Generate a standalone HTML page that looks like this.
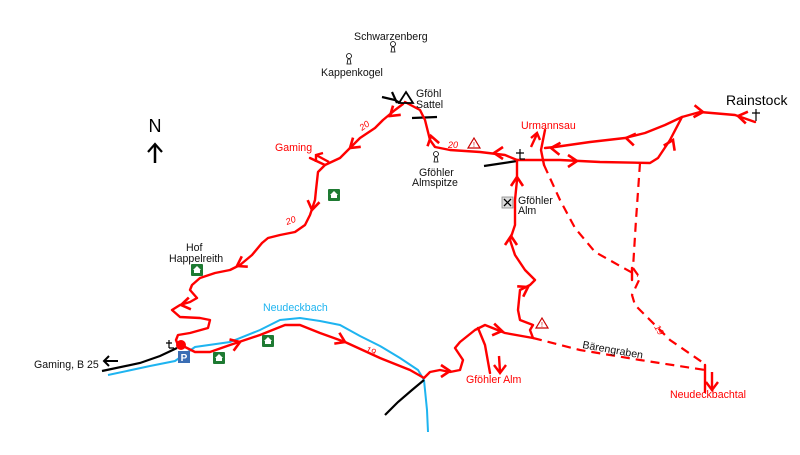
<!DOCTYPE html>
<html><head><meta charset="utf-8"><style>
html,body{margin:0;padding:0;background:#fff;}
svg{display:block;font-family:"Liberation Sans",sans-serif;}
.r{fill:none;stroke:#f00;stroke-width:2.4;stroke-linejoin:round;stroke-linecap:round}
.d{fill:none;stroke:#f00;stroke-width:2.2;stroke-dasharray:9,6}
.b{fill:none;stroke:#000;stroke-width:2.2}
.w{fill:none;stroke:#1eb4f0;stroke-width:2}
.a polyline{fill:none;stroke:#f00;stroke-width:2.4}
.t{font-size:10.6px;fill:#111}
.tr{font-size:10.6px;fill:#f00}
.n{font-size:9px;fill:#f00;font-style:italic}
</style></head><body>
<svg width="800" height="455" viewBox="0 0 800 455">
<defs>
<g id="ar"><polyline points="-9,-6 0,0 -9,6" fill="none" stroke="#f00" stroke-width="2.6"/></g>
<g id="hut"><rect x="-6" y="-6" width="12" height="12" rx="1" fill="#1e7a32"/><path d="M-4,0 L0,-4 L4,0 Z" fill="#fff"/><rect x="-3" y="0" width="6" height="3" fill="#fff"/></g>
<g id="pk"><circle cx="0" cy="-4" r="2.5" fill="#fff" stroke="#000" stroke-width="0.8"/><path d="M-2,4 L-1,-1 L1,-1 L2,4 Z" fill="#fff" stroke="#000" stroke-width="0.8"/></g>
<g id="warn"><path d="M0,-6 L6,4 L-6,4 Z" fill="#fff" stroke="#c00" stroke-width="1.2"/><text x="0" y="3" font-size="7" text-anchor="middle" fill="#c00">!</text></g>
</defs>

<polyline class="w" points="108,375 150,366 175,361 195,347 230,342 260,330 280,320 300,318 320,321 340,325 360,336 380,346 400,358 418,370 424,380 427,410 428,432"/>
<polyline class="b" points="102,371 140,363 160,356 177,348"/>
<polyline class="b" points="382,97 395,100 400,103"/>
<polyline class="b" points="412,118 437,117"/>
<polyline class="b" points="484,166 517,161"/>
<polyline class="b" points="385,415 398,402 412,390 424,380"/>
<polyline class="b" points="392,92 397,103"/>

<polyline class="r" points="403,104 395,110 383,120 375,128 360,138 350,148 340,158 325,165 318,172 316,190 315,200 310,215 305,225 295,232 280,235 268,238 262,243 252,255 240,265 230,270 215,273 200,278 192,285 190,290 197,298 190,302 180,305 172,310 180,317 200,318 210,320 208,328 190,333 178,335 176,340 178,345"/>
<polyline class="r" points="325,165 310,158"/>
<polyline class="r" points="181,345 195,352 210,352 230,345 260,335 285,325 300,325 320,333 345,342 380,358 410,370 424,378 430,372 440,370 450,372 460,370 463,360 455,348 460,342 475,330 485,325 505,333 533,338 530,330 533,325 520,320 518,310 520,290 530,285 535,280 525,270 515,255 510,240 515,225 515,200 517,180 517,160"/>
<polyline class="r" points="478,328 485,345 490,373"/>
<polyline class="r" points="517,160 505,155 480,152 450,150 435,147 430,140 425,120 420,110 405,102"/>
<polyline class="r" points="517,160 560,160 600,162 650,163 658,158 670,140 682,117 700,112 735,115 755,122"/>
<polyline class="r" points="682,117 665,125 645,133 625,138 590,142 555,147 545,148"/>
<polyline class="r" points="545,130 541,150 544,165"/>
<polyline class="d" points="544,165 560,200 575,228 595,252 638,276"/>
<polyline class="d" points="640,163 636,220 633,268 640,278 632,295 635,305 650,320 670,340 702,362"/>
<polyline class="d" points="533,338 580,350 640,360 705,370"/>
<polyline class="r" points="705,365 705,392"/>
<polyline class="r" points="632,268 632,280"/>

<use href="#ar" transform="translate(390,116) rotate(140)"/>
<use href="#ar" transform="translate(350,148) rotate(140)"/>
<use href="#ar" transform="translate(312,210) rotate(100)"/>
<use href="#ar" transform="translate(237,266) rotate(150)"/>
<use href="#ar" transform="translate(181,305) rotate(170)"/>
<use href="#ar" transform="translate(240,342) rotate(-20)"/>
<use href="#ar" transform="translate(345,342) rotate(25)"/>
<use href="#ar" transform="translate(450,371) rotate(0)"/>
<use href="#ar" transform="translate(502,331) rotate(10)"/>
<use href="#ar" transform="translate(528,287) rotate(-30)"/>
<use href="#ar" transform="translate(511,236) rotate(-90)"/>
<use href="#ar" transform="translate(517,177) rotate(-90)"/>
<use href="#ar" transform="translate(494,153) rotate(180)"/>
<use href="#ar" transform="translate(431,136) rotate(-105)"/>
<use href="#ar" transform="translate(577,161) rotate(0)"/>
<use href="#ar" transform="translate(673,140) rotate(-65)"/>
<use href="#ar" transform="translate(703,112) rotate(5)"/>
<use href="#ar" transform="translate(738,116) rotate(190)"/>
<use href="#ar" transform="translate(626,138) rotate(190)"/>
<use href="#ar" transform="translate(551,148) rotate(185)"/>
<g class="a"><polyline points="329,162 316,155"/><polyline points="316,162 316,155 323,153"/></g>
<g class="a"><polyline points="531,147 537,134"/><polyline points="531,138 537,133 540,140"/></g>
<g class="a"><polyline points="499,356 500,372"/><polyline points="494,365 500,373 506,365"/></g>
<g class="a"><polyline points="712,372 712,389"/><polyline points="706,382 712,390 718,382"/></g>
<g><polyline points="118,361 104,361" stroke="#000" stroke-width="2" fill="none"/><polyline points="109,356 104,361 109,366" stroke="#000" stroke-width="2" fill="none"/></g>

<text x="155" y="132" font-size="18" text-anchor="middle" fill="#000">N</text>
<polyline points="155,163 155,145" stroke="#000" stroke-width="2.5" fill="none"/>
<polyline points="148,152 155,144 162,152" stroke="#000" stroke-width="2.2" fill="none"/>

<path d="M406,92 L413,103 L399,103 Z" fill="none" stroke="#000" stroke-width="1.8"/>
<g stroke="#000" stroke-width="1.2" fill="none"><path d="M520,149 V159 M516,153 H524 M520,159 H525"/><path d="M756,109 V121 M752,113 H760"/><path d="M169,340 V348 M166,343 H172 M169,348 H174"/></g>
<circle cx="181" cy="345" r="5" fill="#f00"/>
<rect x="178" y="351" width="12" height="12" fill="#3b6eb4"/>
<text x="184" y="361" font-size="10" fill="#fff" text-anchor="middle" font-weight="bold">P</text>
<use href="#hut" transform="translate(334,195)"/>
<use href="#hut" transform="translate(197,270)"/>
<use href="#hut" transform="translate(219,358)"/>
<use href="#hut" transform="translate(268,341)"/>
<rect x="502" y="197" width="11" height="11" fill="#ddd" stroke="#888" stroke-width="0.8"/>
<path d="M504,199 L511,206 M511,199 L504,206" stroke="#000" stroke-width="1.3"/>
<use href="#pk" transform="translate(393,48)"/>
<use href="#pk" transform="translate(349,60)"/>
<use href="#pk" transform="translate(436,158)"/>
<use href="#warn" transform="translate(474,144)"/>
<use href="#warn" transform="translate(542,324)"/>

<text class="t" x="354" y="40">Schwarzenberg</text>
<text class="t" x="321" y="76">Kappenkogel</text>
<text class="t" x="416" y="97">Gföhl</text>
<text class="t" x="416" y="108">Sattel</text>
<text class="t" x="419" y="176">Gföhler</text>
<text class="t" x="412" y="186">Almspitze</text>
<text class="t" x="518" y="204">Gföhler</text>
<text class="t" x="518" y="214">Alm</text>
<text x="726" y="105" font-size="14" fill="#000">Rainstock</text>
<text class="tr" x="521" y="129">Urmannsau</text>
<text class="tr" x="275" y="151">Gaming</text>
<text class="t" x="186" y="251">Hof</text>
<text class="t" x="169" y="262">Happelreith</text>
<text x="263" y="311" font-size="10.6" fill="#1eb4f0">Neudeckbach</text>
<text class="t" x="34" y="368">Gaming, B 25</text>
<text class="tr" x="466" y="383">Gföhler Alm</text>
<text class="tr" x="670" y="398">Neudeckbachtal</text>
<text class="t" x="582" y="348" transform="rotate(10 582 348)">Bärengraben</text>
<text class="n" x="448" y="148">20</text>
<text class="n" x="362" y="131" transform="rotate(-35 362 131)">20</text>
<text class="n" x="287" y="225" transform="rotate(-20 287 225)">20</text>
<text class="n" x="365" y="352" transform="rotate(20 365 352)">19</text>
<text class="n" x="654" y="327" transform="rotate(60 654 327)">19</text>
</svg>
</body></html>
